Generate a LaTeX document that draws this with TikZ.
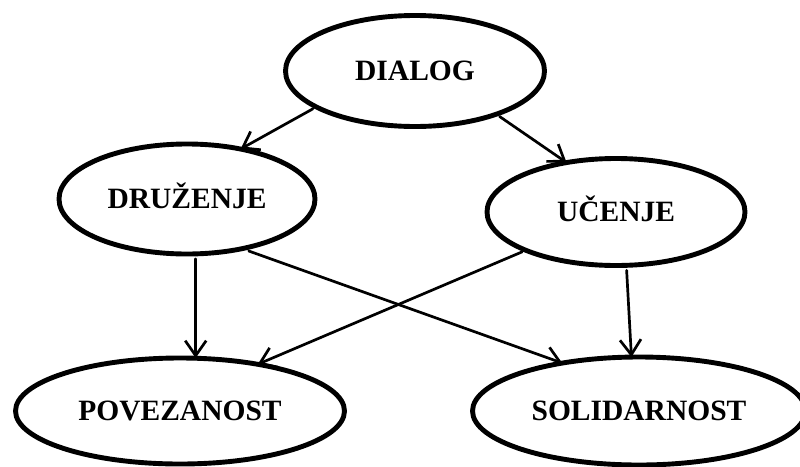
\documentclass[tikz,border=0pt]{standalone}
\usepackage{fontspec}
\setmainfont{Liberation Serif}
\usetikzlibrary{shapes.geometric,arrows.meta}

\tikzset{
  concept/.style={ellipse, draw, line width=4.9pt, inner sep=0pt, outer sep=0pt,
    font=\fontsize{29.5}{34}\selectfont\bfseries, text height=19.5pt, text depth=0pt},
  link/.style={line width=2.7pt, line cap=round,
    -{Straight Barb[length=15pt,width=21pt,line width=2.7pt]}}
}

\begin{document}
\begin{tikzpicture}[x=1pt, y=-1pt]
  \useasboundingbox (0,0) rectangle (800,466);
  \clip (0,0) rectangle (800,466);

  % concept ellipses
  \node[concept, minimum width=259pt, minimum height=111pt] (dialog)   at (415,71)  {DIALOG};
  \node[concept, minimum width=256pt, minimum height=110pt] (druzenje) at (187,199) {DRUŽENJE};
  \node[concept, minimum width=258pt, minimum height=107pt] (ucenje)   at (616,212) {UČENJE};
  \node[concept, minimum width=329pt, minimum height=106pt] (povez)    at (180,411) {POVEZANOST};
  \node[concept, minimum width=333pt, minimum height=108pt] (solid)    at (639,411) {SOLIDARNOST};

  % relations
  \draw[link, shorten <=4pt] (dialog.200) -- (druzenje.43);
  \draw[link, shorten <=4pt] (dialog.-28) -- (ucenje.135);
  \draw[link, shorten <=5pt] (druzenje.-81) -- (druzenje.-81 |- povez.north);
  \draw[link, shorten <=7pt] (druzenje.-42) -- (solid.148);
  \draw[link, shorten <=4pt] (ucenje.203) -- (povez.31);
  \draw[link, shorten <=5pt] (ucenje.-79) -- (solid.98);
\end{tikzpicture}
\end{document}
